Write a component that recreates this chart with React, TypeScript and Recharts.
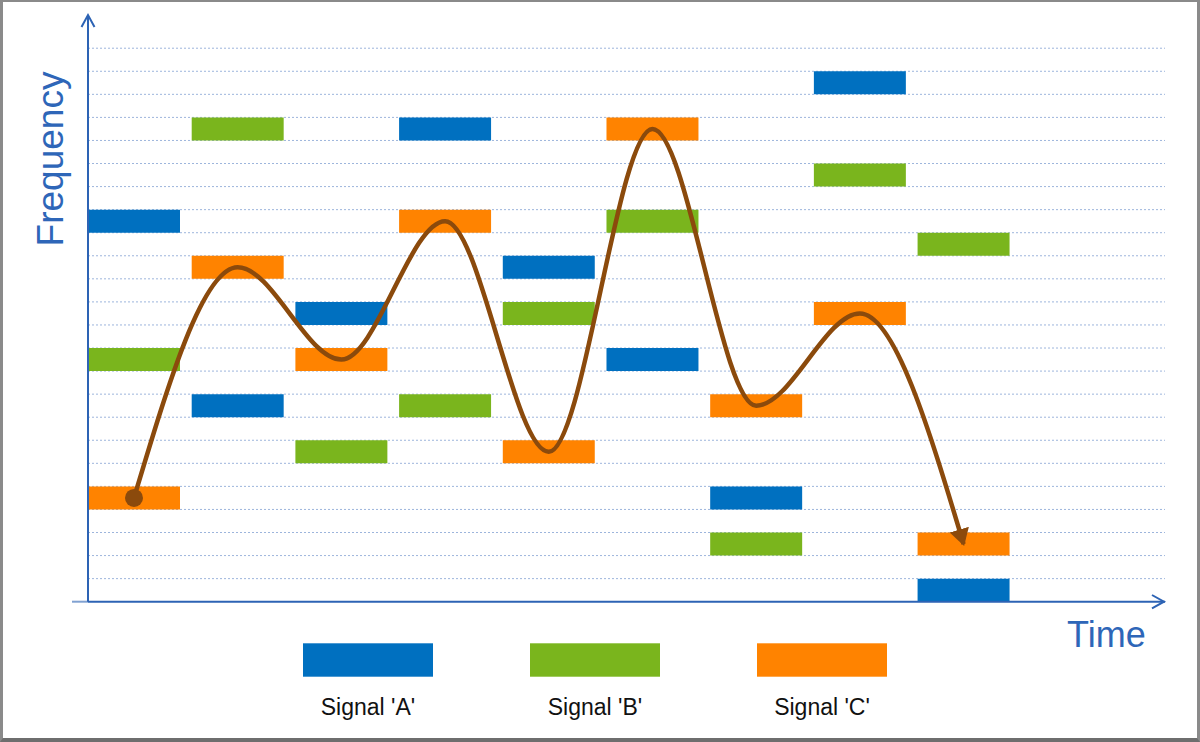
import React from 'react';
import { ComposedChart, Line, XAxis, YAxis, CartesianGrid, ReferenceArea } from 'recharts';

// time slots (hop index)
const slots = [0, 1, 2, 3, 4, 5, 6, 7, 8];
// frequency channel (lower edge of band) occupied by each signal in each slot
const signalA = [16, 8, 12, 20, 14, 10, 4, 22, 0];
const signalB = [10, 20, 6, 8, 12, 16, 2, 18, 15];
const signalC = [4, 14, 10, 16, 6, 20, 8, 12, 2];
const freqTicks = [1, 2, 3, 4, 5, 6, 7, 8, 9, 10, 11, 12, 13, 14, 15, 16, 17, 18, 19, 20, 21, 22, 23, 24];
const seriesNames = ["Signal 'A'", "Signal 'B'", "Signal 'C'"];
const seriesColors = ['#0070c0', '#7ab51d', '#ff8300'];
const seriesValues = [signalA, signalB, signalC];

const BAR_W = 0.887;
const X_MAX = 10.386;
const Y_MAX = 25.44;
const AXIS = '#2d63b4';
const BROWN = '#8b4a0c';

const pathData = slots.map((s, i) => ({ t: s + BAR_W / 2, c: signalC[i] + 0.5 }));

const StartDot = (props: any) => {
  const { cx, cy, index } = props;
  if (index === 0) return <circle key={`d${index}`} cx={cx} cy={cy} r={9} fill={BROWN} />;
  return <g key={`d${index}`} />;
};

const NoTick = () => <g />;

export default function App() {
  return (
    <div style={{ position: 'absolute', left: 0, top: 0, width: 1200, height: 742, background: '#fff', fontFamily: 'Liberation Sans, Arial, sans-serif' }}>
      <svg width={0} height={0} style={{ position: 'absolute' }}>
        <defs>
          <marker id="arrowHead" markerUnits="userSpaceOnUse" markerWidth={20} markerHeight={22} refX={15} refY={10} orient="auto">
            <path d="M0,0 L17,10 L0,20 Z" fill={BROWN} />
          </marker>
        </defs>
      </svg>
      <ComposedChart width={1200} height={742} data={pathData} margin={{ top: 15, right: 35, left: 87, bottom: 139.3 }}>
        <CartesianGrid vertical={false} horizontalValues={freqTicks} syncWithTicks={false} stroke="#9db5dc" strokeDasharray="2 2" />
        <XAxis dataKey="t" type="number" domain={[0, X_MAX]} ticks={[]} tick={false} tickLine={false} height={1}
          axisLine={{ stroke: AXIS, strokeWidth: 2 }} allowDataOverflow />
        <YAxis type="number" domain={[0, Y_MAX]} ticks={freqTicks} tick={NoTick} tickLine={false} width={1}
          axisLine={{ stroke: AXIS, strokeWidth: 2 }} allowDataOverflow interval={0} />
        {seriesValues.map((vals, si) =>
          slots.map((s, i) => (
            <ReferenceArea key={`r${si}-${i}`} x1={s} x2={s + BAR_W} y1={vals[i]} y2={vals[i] + 1}
              fill={seriesColors[si]} fillOpacity={1} stroke="none" ifOverflow="visible" />
          ))
        )}
        <Line dataKey="c" type="monotone" stroke={BROWN} strokeWidth={4.5} dot={StartDot} activeDot={false}
          isAnimationActive={false} markerEnd="url(#arrowHead)" />
      </ComposedChart>
      <svg width={1200} height={742} style={{ position: 'absolute', left: 0, top: 0, pointerEvents: 'none' }}>
        <line x1={72} y1={601.7} x2={88} y2={601.7} stroke={AXIS} strokeWidth={2} opacity={0.6} />
        <polyline points="81.5,27 88,15 94.5,27" fill="none" stroke={AXIS} strokeWidth={2} />
        <polyline points="1152,595 1164,601.7 1152,608.4" fill="none" stroke={AXIS} strokeWidth={2} />
        <text x={63} y={159} transform="rotate(-90 63 159)" textAnchor="middle" fontSize={37} fill="#2e66b8"
          fontFamily="Liberation Sans, Arial, sans-serif">Frequency</text>
        <text x={1067} y={647} fontSize={36} fill="#2e66b8" fontFamily="Liberation Sans, Arial, sans-serif">Time</text>
        {seriesNames.map((name, i) => (
          <g key={name}>
            <rect x={303 + i * 227} y={643.3} width={130} height={33.4} fill={seriesColors[i]} />
            <text x={368 + i * 227} y={714.5} textAnchor="middle" fontSize={23} fill="#111"
              fontFamily="Liberation Sans, Arial, sans-serif">{name}</text>
          </g>
        ))}
      </svg>
      <div style={{ position: 'absolute', left: 0, top: 0, width: 1200, height: 742, boxSizing: 'border-box',
        borderTop: '2px solid #8a8a8a', borderLeft: '3px solid #8a8a8a', borderRight: '3px solid #8a8a8a',
        borderBottom: '4px solid #6e6e6e', pointerEvents: 'none' }} />
    </div>
  );
}
